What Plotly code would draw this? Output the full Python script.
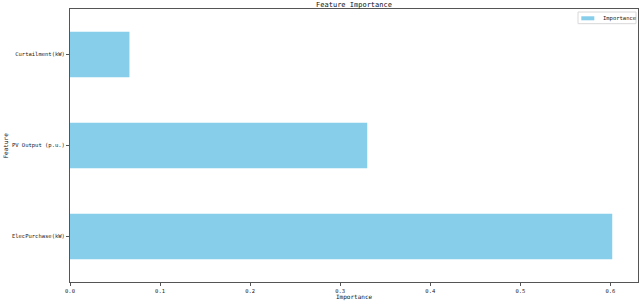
import plotly.graph_objects as go

features = ["ElecPurchase(kW)", "PV Output (p.u.)", "Curtailment(kW)"]
importance = [0.602, 0.330, 0.066]
x_ticks = [0.0, 0.1, 0.2, 0.3, 0.4, 0.5, 0.6]
x_tick_labels = ["0.0", "0.1", "0.2", "0.3", "0.4", "0.5", "0.6"]

FONT = "DejaVu Sans Mono"
BAR_COLOR = "#87CEEB"

fig = go.Figure()
fig.add_trace(go.Bar(
    x=importance, y=list(range(len(features))), orientation="h",
    name="Importance", marker=dict(color=BAR_COLOR, line=dict(width=0)),
    showlegend=False,
))

axis_common = dict(showline=True, linecolor="#555555", linewidth=1, mirror=True,
                   showgrid=False, zeroline=False, ticks="outside", ticklen=3,
                   tickcolor="#555555", automargin=False,
                   tickfont=dict(family=FONT, size=5.5, color="#222"))

fig.update_layout(
    width=640, height=301,
    margin=dict(l=70, r=2, t=9, b=19),
    paper_bgcolor="white", plot_bgcolor="white",
    bargap=0.5,
    title=dict(text="Feature Importance", xref="paper", x=0.5, xanchor="center",
               yref="container", y=0.986, yanchor="middle", automargin=False,
               font=dict(family=FONT, size=7, color="#111")),
    xaxis=dict(range=[0, 0.6306], tickvals=x_ticks, ticktext=x_tick_labels, **axis_common),
    yaxis=dict(range=[-0.5, 2.5], tickvals=list(range(len(features))), ticktext=features,
               **axis_common),
    shapes=[
        dict(type="rect", xref="paper", yref="paper", x0=0.8944, x1=0.9965, y0=0.9462, y1=0.989,
             line=dict(color="#d8d8d8", width=1), fillcolor="white", layer="above"),
        dict(type="rect", xref="paper", yref="paper", x0=0.9002, x1=0.9231, y0=0.9586, y1=0.9733,
             line=dict(width=0), fillcolor=BAR_COLOR, layer="above"),
    ],
    annotations=[
        dict(text="Importance", xref="paper", yref="paper", x=0.9349, y=0.967,
             xanchor="left", yanchor="middle", showarrow=False,
             font=dict(family=FONT, size=5.5, color="#222")),
        dict(text="Importance", xref="paper", yref="paper", x=0.5, y=0, yshift=-15,
             xanchor="center", yanchor="middle", showarrow=False,
             font=dict(family=FONT, size=6, color="#111")),
        dict(text="Feature", xref="paper", yref="paper", x=0, xshift=-65, y=0.5,
             xanchor="center", yanchor="middle", textangle=-90, showarrow=False,
             font=dict(family=FONT, size=6, color="#111")),
    ],
)

fig.write_html("out.html", config={"displayModeBar": False},
               post_script="document.body.style.margin='0';document.body.style.overflow='hidden';")
